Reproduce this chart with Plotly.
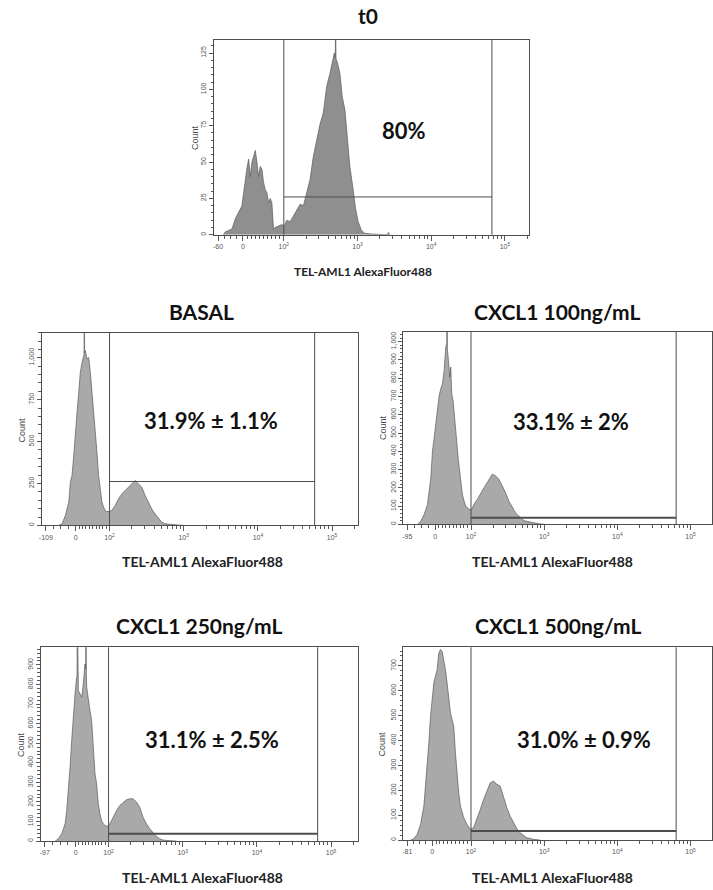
import plotly.graph_objects as go
import numpy as np

W, H = 713, 890

titles = ["t0", "BASAL", "CXCL1 100ng/mL", "CXCL1 250ng/mL", "CXCL1 500ng/mL"]
pct_labels = ["80%", "31.9% ± 1.1%", "33.1% ± 2%", "31.1% ± 2.5%", "31.0% ± 0.9%"]
x_title = "TEL-AML1 AlexaFluor488"
y_title = "Count"

# Histogram data: x = display position on the biexponential axis (2 = 10^2, 3 = 10^3 ...), y = counts
t0_pos = [1.180, 1.207, 1.252, 1.297, 1.342, 1.387, 1.432, 1.455, 1.477, 1.500, 1.523, 1.545, 1.568, 1.590,
          1.613, 1.635, 1.658, 1.680, 1.703, 1.725, 1.748, 1.770, 1.793, 1.815, 1.838, 1.860, 1.883, 1.928,
          1.973, 2.005, 2.041, 2.086, 2.131, 2.176, 2.221, 2.266, 2.311, 2.356, 2.401, 2.446, 2.491, 2.536,
          2.581, 2.626, 2.658, 2.685, 2.698, 2.703, 2.708, 2.730, 2.761, 2.793, 2.829, 2.860, 2.896, 2.941,
          2.973, 3.009, 3.054, 3.099, 3.189, 3.400, 3.420, 3.440]
t0_count = [0, 2, 3, 4, 11, 15, 20, 29, 38, 46, 52, 40, 50, 54,
            58, 50, 40, 47, 45, 36, 31, 29, 22, 25, 22, 4, 5, 6,
            7, 6, 10, 9, 13, 17, 21, 20, 29, 38, 54, 66, 76, 84,
            102, 111, 118, 125, 122, 150, 121, 118, 111, 95, 86, 68, 47, 31,
            18, 9, 3, 1, 0.5, 0, 1.5, 0]

basal_pos = [1.315, 1.360, 1.405, 1.450, 1.472, 1.494, 1.517, 1.539, 1.562, 1.584, 1.606, 1.629, 1.651,
             1.656, 1.660, 1.664, 1.673, 1.696, 1.718, 1.741, 1.763, 1.785, 1.808, 1.830, 1.852, 1.875,
             1.897, 1.919, 1.942, 1.964, 2.000, 2.031, 2.076, 2.121, 2.166, 2.210, 2.255, 2.300, 2.345,
             2.367, 2.389, 2.434, 2.479, 2.523, 2.568, 2.613, 2.658, 2.702, 2.747, 2.837, 2.926, 3.016]
basal_count = [0, 10, 60, 139, 258, 298, 417, 575, 675, 794, 913, 972, 1012,
               1020, 1300, 1030, 1042, 992, 1002, 913, 794, 714, 595, 437, 298, 198,
               139, 109, 89, 83, 83, 89, 119, 159, 188, 208, 228, 248, 268,
               258, 248, 228, 179, 139, 99, 69, 44, 20, 10, 4, 2, 0]

c100_pos = [1.270, 1.315, 1.361, 1.406, 1.451, 1.474, 1.497, 1.519, 1.542, 1.565, 1.587, 1.610, 1.633,
            1.655, 1.669, 1.673, 1.677, 1.692, 1.710, 1.723, 1.737, 1.755, 1.782, 1.800, 1.828, 1.859,
            1.882, 1.905, 1.927, 1.950, 1.973, 2.009, 2.041, 2.086, 2.132, 2.177, 2.222, 2.268, 2.290,
            2.336, 2.381, 2.426, 2.472, 2.517, 2.562, 2.608, 2.653, 2.698, 2.744, 2.834, 2.925, 3.016]
c100_count = [0, 18, 55, 110, 256, 403, 476, 549, 623, 705, 742, 769, 842,
              971, 990, 1300, 960, 897, 806, 861, 714, 678, 531, 476, 348, 238,
              165, 128, 101, 92, 82, 82, 110, 137, 174, 201, 229, 266, 275,
              266, 247, 211, 174, 128, 92, 64, 46, 27, 18, 9, 4, 0]

c250_pos = [1.280, 1.324, 1.369, 1.414, 1.436, 1.459, 1.481, 1.503, 1.526, 1.548, 1.570, 1.575, 1.579,
            1.583, 1.593, 1.615, 1.638, 1.660, 1.682, 1.692, 1.696, 1.700, 1.705, 1.727, 1.749, 1.772,
            1.794, 1.817, 1.839, 1.861, 1.884, 1.906, 1.928, 1.951, 1.982, 2.018, 2.063, 2.107, 2.152,
            2.197, 2.242, 2.286, 2.331, 2.376, 2.421, 2.465, 2.510, 2.555, 2.600, 2.644, 2.689, 2.734,
            2.823, 2.913]
c250_count = [0, 12, 37, 88, 156, 259, 378, 514, 667, 752, 837, 840, 1200,
              800, 769, 752, 735, 803, 905, 880, 1200, 860, 786, 718, 667, 616,
              446, 344, 293, 190, 139, 105, 88, 80, 75, 88, 122, 156, 182,
              199, 211, 216, 216, 199, 173, 122, 88, 63, 41, 24, 12, 5,
              2, 0]

c500_pos = [1.175, 1.220, 1.265, 1.311, 1.356, 1.401, 1.424, 1.447, 1.469, 1.492, 1.515, 1.537, 1.560,
            1.583, 1.605, 1.628, 1.651, 1.673, 1.696, 1.719, 1.741, 1.764, 1.787, 1.810, 1.832, 1.855,
            1.878, 1.900, 1.946, 1.991, 2.036, 2.082, 2.127, 2.172, 2.218, 2.263, 2.308, 2.354, 2.399,
            2.444, 2.490, 2.535, 2.580, 2.626, 2.671, 2.717, 2.762, 2.853, 2.943]
c500_count = [0, 5, 23, 63, 137, 284, 391, 498, 578, 632, 659, 685, 752,
              766, 759, 726, 685, 632, 565, 511, 485, 458, 351, 257, 190, 137,
              110, 90, 63, 43, 50, 83, 123, 163, 197, 230, 237, 224, 217,
              170, 130, 96, 70, 46, 29, 19, 9, 3, 0]

positions = [t0_pos, basal_pos, c100_pos, c250_pos, c500_pos]
counts = [t0_count, basal_count, c100_count, c250_count, c500_count]

# Gates (display positions) and gate bar height (counts)
gate_low = [2.0, 2.0, 2.0, 2.0, 2.0]
gate_high = [4.824, 4.765, 4.803, 4.819, 4.803]
gate_level = [26, 262, 37, 37, 36]

# Axis definitions
axis_min_label = ["-60", "-109", "-95", "-97", "-81"]
zero_pos = [1.446, 1.544, 1.510, 1.557, 1.469]
x_min = [1.054, 1.087, 1.075, 1.087, 1.075]
x_max = [5.324, 5.356, 5.293, 5.356, 5.293]
y_max = [134, 1150, 1055, 990, 775]
y_major_step = [25, 250, 100, 100, 100]
y_major_top = [125, 1000, 1000, 900, 700]
y_minor_step = [5, 50, 20, 20, 20]

# ---------- layout geometry (pixels) ----------
boxes = [(212, 528, 40, 235), (39, 357, 333, 526), (402, 712, 332, 525),
         (38, 356, 648, 842), (402, 712, 648, 841)]
title_xy = [(367, 16), (199, 312), (556, 312), (197, 626), (557, 626)]
pct_xy = [(403, 131), (209, 421), (570, 422), (210, 740), (583, 740)]
xlab_xy = [(362, 272), (200, 562), (552, 562), (200, 878), (552, 878)]
xlab_size = [12, 14, 14, 14, 14]
ylab_xy = [(193, 138), (19, 430), (381, 428), (18, 745), (381, 745)]
fill_colors = ["#8f8f8f", "#a9a9a9", "#a9a9a9", "#a9a9a9", "#a9a9a9"]

FRAME = "#4d4d4d"
TICKC = "#5a5a5a"
tickfont = dict(family="Liberation Sans, Arial", size=7, color="#555555")

fig = go.Figure()
shapes = []
annotations = []
layout = dict(width=W, height=H, margin=dict(l=0, r=0, t=0, b=0),
              paper_bgcolor="white", plot_bgcolor="white", showlegend=False)

for i in range(5):
    n = "" if i == 0 else str(i + 1)
    xa, ya = "x" + n, "y" + n
    l, r, t, b = boxes[i]

    fig.add_trace(go.Scatter(x=positions[i], y=counts[i], mode="lines", fill="tozeroy",
                             line=dict(color="#5a5a5a", width=0.7), fillcolor=fill_colors[i],
                             xaxis=xa, yaxis=ya, hoverinfo="skip", showlegend=False))

    # x ticks
    xr = [x_min[i], x_max[i]]
    px_per_u = (r - l) / (x_max[i] - x_min[i])
    min_tick = x_min[i] + 4.0 / px_per_u
    tickvals = [min_tick, zero_pos[i], 2, 3, 4, 5]
    ticktext = [axis_min_label[i], "0", "10<sup>2</sup>", "10<sup>3</sup>", "10<sup>4</sup>", "10<sup>5</sup>"]
    minor_vals = []
    for k in range(1, 4):
        minor_vals.append(min_tick + (zero_pos[i] - min_tick) * k / 4)
    for k in range(1, 10):
        minor_vals.append(zero_pos[i] + (2 - zero_pos[i]) * k / 10)
    for dec in range(2, 6):
        for m in range(2, 10):
            v = dec + np.log10(m)
            if v < x_max[i]:
                minor_vals.append(v)

    layout["xaxis" + n] = dict(
        domain=[l / W, r / W], range=xr, anchor=ya, tickmode="array",
        tickvals=tickvals, ticktext=ticktext, ticks="outside", ticklen=5, tickwidth=1,
        tickcolor=TICKC, tickfont=tickfont, showline=True, mirror=True, linecolor=FRAME,
        linewidth=1, showgrid=False, zeroline=False, fixedrange=True,
        minor=dict(tickmode="array", tickvals=minor_vals, ticks="outside", ticklen=3,
                   tickcolor=TICKC, tickwidth=1, showgrid=False))

    yvals = list(range(0, y_major_top[i] + 1, y_major_step[i]))
    layout["yaxis" + n] = dict(
        domain=[1 - b / H, 1 - t / H], range=[0, y_max[i]], anchor=xa, tickmode="array",
        tickvals=yvals, ticktext=[f"{v:,}" for v in yvals], tickangle=-90,
        ticks="outside", ticklen=4, tickwidth=1, tickcolor=TICKC, tickfont=tickfont,
        showline=True, mirror=True, linecolor=FRAME, linewidth=1, showgrid=False,
        zeroline=False, fixedrange=True,
        minor=dict(tickmode="linear", tick0=0, dtick=y_minor_step[i], ticks="outside",
                   ticklen=2.5, tickcolor=TICKC, tickwidth=1, showgrid=False))

    # gate
    hw = 1 if i < 2 else 2
    shapes.append(dict(type="line", xref=xa, yref=ya + " domain", x0=gate_low[i], x1=gate_low[i],
                       y0=0, y1=1, line=dict(color=FRAME, width=1)))
    shapes.append(dict(type="line", xref=xa, yref=ya + " domain", x0=gate_high[i], x1=gate_high[i],
                       y0=0, y1=1, line=dict(color=FRAME, width=1)))
    shapes.append(dict(type="line", xref=xa, yref=ya, x0=gate_low[i], x1=gate_high[i],
                       y0=gate_level[i], y1=gate_level[i], line=dict(color=FRAME, width=hw)))

    # texts
    tx, ty = title_xy[i]
    annotations.append(dict(text=titles[i], x=tx / W, y=1 - ty / H, xref="paper", yref="paper",
                            showarrow=False, xanchor="center", yanchor="middle",
                            font=dict(family="Lato", size=21, color="#111111", weight="bold")))
    px_, py_ = pct_xy[i]
    annotations.append(dict(text=pct_labels[i], x=px_ / W, y=1 - py_ / H, xref="paper", yref="paper",
                            showarrow=False, xanchor="center", yanchor="middle",
                            font=dict(family="Lato", size=22, color="#111111", weight="bold")))
    lx, ly = xlab_xy[i]
    annotations.append(dict(text=x_title, x=lx / W, y=1 - ly / H, xref="paper", yref="paper",
                            showarrow=False, xanchor="center", yanchor="middle",
                            font=dict(family="Lato", size=xlab_size[i], color="#222222", weight="bold")))
    cx, cy = ylab_xy[i]
    annotations.append(dict(text=y_title, x=cx / W, y=1 - cy / H, xref="paper", yref="paper",
                            showarrow=False, xanchor="center", yanchor="middle", textangle=-90,
                            font=dict(family="Liberation Sans, Arial", size=9, color="#444444")))

layout["shapes"] = shapes
layout["annotations"] = annotations
fig.update_layout(**layout)
fig.write_html("out.html")
